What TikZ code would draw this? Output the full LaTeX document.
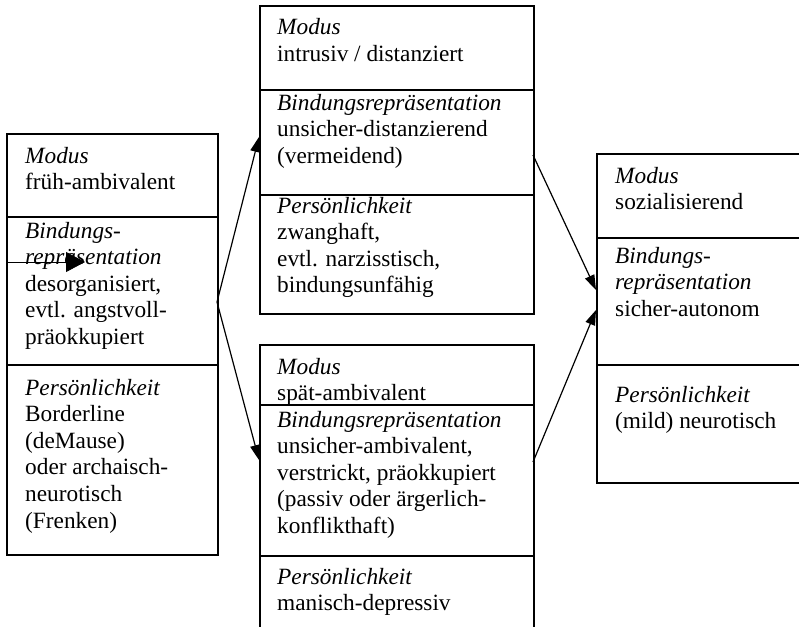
\documentclass[tikz,border=0pt]{standalone}
\usepackage{fontspec}
\setmainfont{Liberation Serif}
\usetikzlibrary{arrows.meta}
\newcommand\blk[1]{\parbox[t]{260pt}{\raggedright #1}}
\begin{document}
\begin{tikzpicture}[x=1pt,y=-1pt,
  box/.style={draw, line width=1.6pt, rectangle, inner sep=0pt, anchor=north west},
  divline/.style={line width=1.1pt},
  txt/.style={anchor=base west, inner sep=0pt, font=\fontsize{23.3pt}{26.6pt}\selectfont},
  conn/.style={line width=1.2pt, -{Triangle[length=15pt,width=10pt]}}]
\useasboundingbox (0,0) rectangle (799,626);
\clip (0,0) rectangle (799,626);
\fill[white] (0,0) rectangle (799,626);
% boxes
\node[box, minimum width=211pt, minimum height=421pt] (L) at (6,133) {};
\node[box, minimum width=274pt, minimum height=308pt] (T) at (259,5) {};
\node[box, minimum width=274pt, minimum height=300pt] (B) at (259,344) {};
\node[box, minimum width=230pt, minimum height=329pt] (R) at (596,153) {};
% dividers
\draw[divline] (6,217) -- (217,217);
\draw[divline] (6,365) -- (217,365);
\draw[divline] (259,90) -- (533,90);
\draw[divline] (259,195) -- (533,195);
\draw[divline] (259,405) -- (533,405);
\draw[divline] (259,556) -- (533,556);
\draw[divline] (596,238) -- (826,238);
\draw[divline] (596,365) -- (826,365);
% texts
\node[txt] (Lm) at (25,163) {\blk{\textit{Modus}\\früh-ambivalent}};
\node[txt] (Lb) at (25,238) {\blk{\textit{Bindungs-}\\\textit{repräsentation}\\desorganisiert,\\evtl. angstvoll-\\präokkupiert}};
\node[txt] (Lp) at (25,395) {\blk{\textit{Persönlichkeit}\\Borderline\\(deMause)\\oder archaisch-\\neurotisch\\(Frenken)}};
\node[txt] (Tm) at (277,35) {\blk{\textit{Modus}\\intrusiv / distanziert}};
\node[txt] (Tb) at (277,110) {\blk{\textit{Bindungsrepräsentation}\\unsicher-distanzierend\\(vermeidend)}};
\node[txt] (Tp) at (277,213) {\blk{\textit{Persönlichkeit}\\zwanghaft,\\evtl. narzisstisch,\\bindungsunfähig}};
\node[txt] (Bm) at (277,374) {\blk{\textit{Modus}\\spät-ambivalent}};
\node[txt] (Bb) at (277,427) {\blk{\textit{Bindungsrepräsentation}\\unsicher-ambivalent,\\verstrickt, präokkupiert\\(passiv oder ärgerlich-\\konflikthaft)}};
\node[txt] (Bp) at (277,584) {\blk{\textit{Persönlichkeit}\\manisch-depressiv}};
\node[txt] (Rm) at (615,183) {\blk{\textit{Modus}\\sozialisierend}};
\node[txt] (Rb) at (615,263) {\blk{\textit{Bindungs-}\\\textit{repräsentation}\\sicher-autonom}};
\node[txt] (Rp) at (615,402) {\blk{\textit{Persönlichkeit}\\(mild) neurotisch}};
% connector points
\coordinate (Lo) at (217,302);
\coordinate (Ti) at (259,137);
\coordinate (Bi) at (259,460);
\coordinate (To) at (533,155);
\coordinate (Bo) at (533,462);
\coordinate (Ri1) at (596,290);
\coordinate (Ri2) at (596,310);
\draw[conn] (Lo) -- (Ti);
\draw[conn] (Lo) -- (Bi);
\draw[conn] (To) -- (Ri1);
\draw[conn] (Bo) -- (Ri2);
% stray arrow inside left box
\coordinate (ga) at (6,262);
\coordinate (gb) at (85,262);
\draw[line width=0.8pt, -{Triangle[length=19pt,width=20pt]}] (ga) -- (gb);
\end{tikzpicture}
\end{document}
